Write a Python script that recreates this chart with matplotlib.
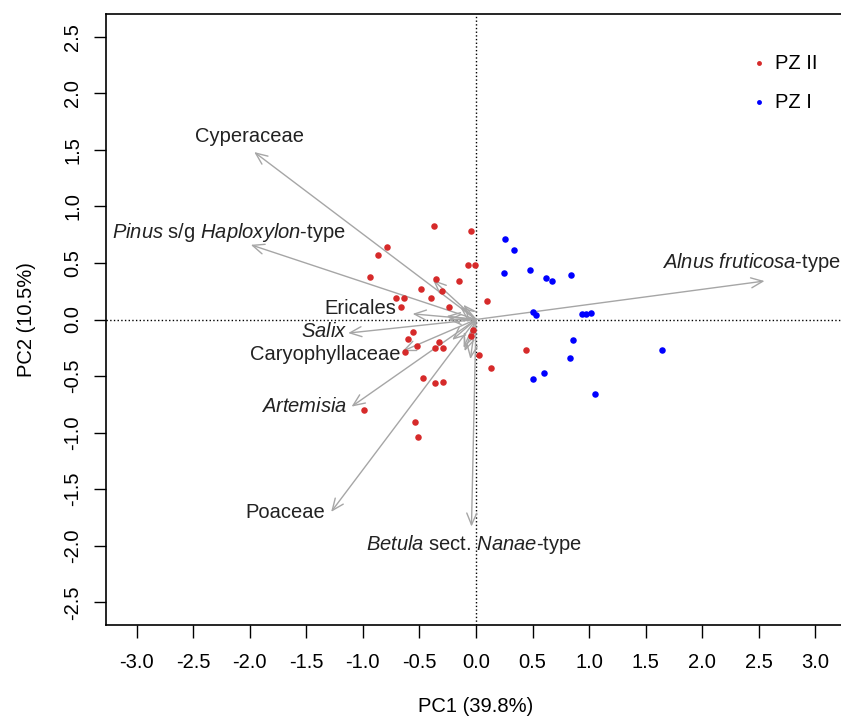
import matplotlib.pyplot as plt
import numpy as np

plt.rcParams['font.family'] = ['Liberation Sans', 'DejaVu Sans']
plt.rcParams['mathtext.fontset'] = 'custom'
plt.rcParams['mathtext.rm'] = 'Liberation Sans'
plt.rcParams['mathtext.it'] = 'Liberation Sans:italic'

# sample scores, PZ II (red)
pz2_x = [-0.37, -0.04, -0.79, -0.87, -0.94, -0.35, -0.49, -0.15, -0.30, -0.40,
         -0.07, -0.01, -0.71, -0.64, -0.66, -0.24, 0.10, -0.03, -0.04, 0.03,
         0.13, -0.56, -0.60, -0.52, -0.63, -0.36, -0.33, -0.29, -0.47, -0.36,
         -0.29, 0.44, -0.99, -0.54, -0.51]
pz2_y = [0.83, 0.78, 0.64, 0.57, 0.38, 0.36, 0.27, 0.34, 0.25, 0.19,
         0.48, 0.48, 0.19, 0.19, 0.11, 0.11, 0.16, -0.09, -0.15, -0.31,
         -0.43, -0.11, -0.17, -0.23, -0.29, -0.25, -0.20, -0.25, -0.52, -0.56,
         -0.55, -0.27, -0.80, -0.91, -1.04]

# sample scores, PZ I (blue)
pz1_x = [0.26, 0.34, 0.25, 0.48, 0.62, 0.67, 0.84, 0.50, 0.53, 0.94,
         0.97, 1.02, 0.86, 0.83, 0.60, 0.50, 1.05, 1.64]
pz1_y = [0.71, 0.61, 0.41, 0.44, 0.37, 0.34, 0.39, 0.07, 0.04, 0.05,
         0.05, 0.06, -0.18, -0.34, -0.47, -0.53, -0.66, -0.27]

# taxa loadings (labelled)
taxa = [r'Cyperaceae',
        r'$\it{Pinus}$ s/g $\it{Haploxylon}$-type',
        r'$\it{Alnus\ fruticosa}$-type',
        r'Ericales',
        r'$\it{Salix}$',
        r'Caryophyllaceae',
        r'$\it{Artemisia}$',
        r'Poaceae',
        r'$\it{Betula}$ sect. $\it{Nanae}$-type']
load_x = [-1.96, -1.99, 2.55, -0.56, -1.13, -0.65, -1.10, -1.28, -0.04]
load_y = [1.48, 0.66, 0.34, 0.05, -0.12, -0.28, -0.77, -1.70, -1.83]

# minor taxa loadings (unlabelled)
minor_x = [-0.38, -0.11, -0.21, -0.11, -0.05, -0.26, -0.14, -0.25, -0.10]
minor_y = [0.35, 0.13, -0.18, -0.25, -0.35, 0.03, 0.11, 0.00, -0.28]

# where each taxon label sits
label_x = [-2.00, -2.18, 2.43, -1.02, -1.34, -1.33, -1.52, -1.69, -0.02]
label_y = [1.62, 0.77, 0.50, 0.10, -0.11, -0.31, -0.77, -1.71, -1.99]

fig = plt.figure(figsize=(8.41, 7.2), dpi=100)
ax = fig.add_axes([106 / 841, 95 / 720, 740 / 841, 611 / 720])

ax.axhline(0, color='black', linestyle=':', linewidth=1, zorder=1)
ax.axvline(0, color='black', linestyle=':', linewidth=1, zorder=1)

arrow_style = dict(arrowstyle='->,head_length=0.7,head_width=0.3', color='#A6A6A6',
                   lw=1, shrinkA=0, shrinkB=0, mutation_scale=12)
for x, y in zip(minor_x + load_x, minor_y + load_y):
    ax.annotate('', xy=(x, y), xytext=(0, 0), arrowprops=arrow_style, zorder=2)

ax.scatter(pz2_x, pz2_y, s=22, color='#D62A2A', zorder=3, linewidths=0, label='PZ II')
ax.scatter(pz1_x, pz1_y, s=22, color='#0000FF', zorder=3, linewidths=0, label='PZ I')

for name, x, y in zip(taxa, label_x, label_y):
    ax.text(x, y, name, ha='center', va='center', fontsize=14.5, color='#222222', zorder=4)

ax.set_xlim(-3.27, 3.27)
ax.set_ylim(-2.70, 2.70)
ax.set_xticks(np.arange(-3.0, 3.01, 0.5))
ax.set_yticks(np.arange(-2.5, 2.51, 0.5))
ax.set_xticklabels(['%.1f' % v for v in np.arange(-3.0, 3.01, 0.5)])
ax.set_yticklabels(['%.1f' % v for v in np.arange(-2.5, 2.51, 0.5)], rotation=90, va='center')
ax.tick_params(direction='out', length=9, width=1, labelsize=14.5, pad=11)
ax.tick_params(axis='y', pad=8)
for sp in ax.spines.values():
    sp.set_linewidth(1.2)

ax.set_xlabel('PC1 (39.8%)', fontsize=14.5, labelpad=18)
ax.set_ylabel('PC2 (10.5%)', fontsize=14.5, labelpad=20)

leg = ax.legend(loc='upper left', bbox_to_anchor=(0.844, 0.965), frameon=False,
                fontsize=14.5, markerscale=0.75, labelspacing=1.0, handletextpad=0.3,
                handlelength=1.0)

fig.savefig('out.png', dpi=100)
